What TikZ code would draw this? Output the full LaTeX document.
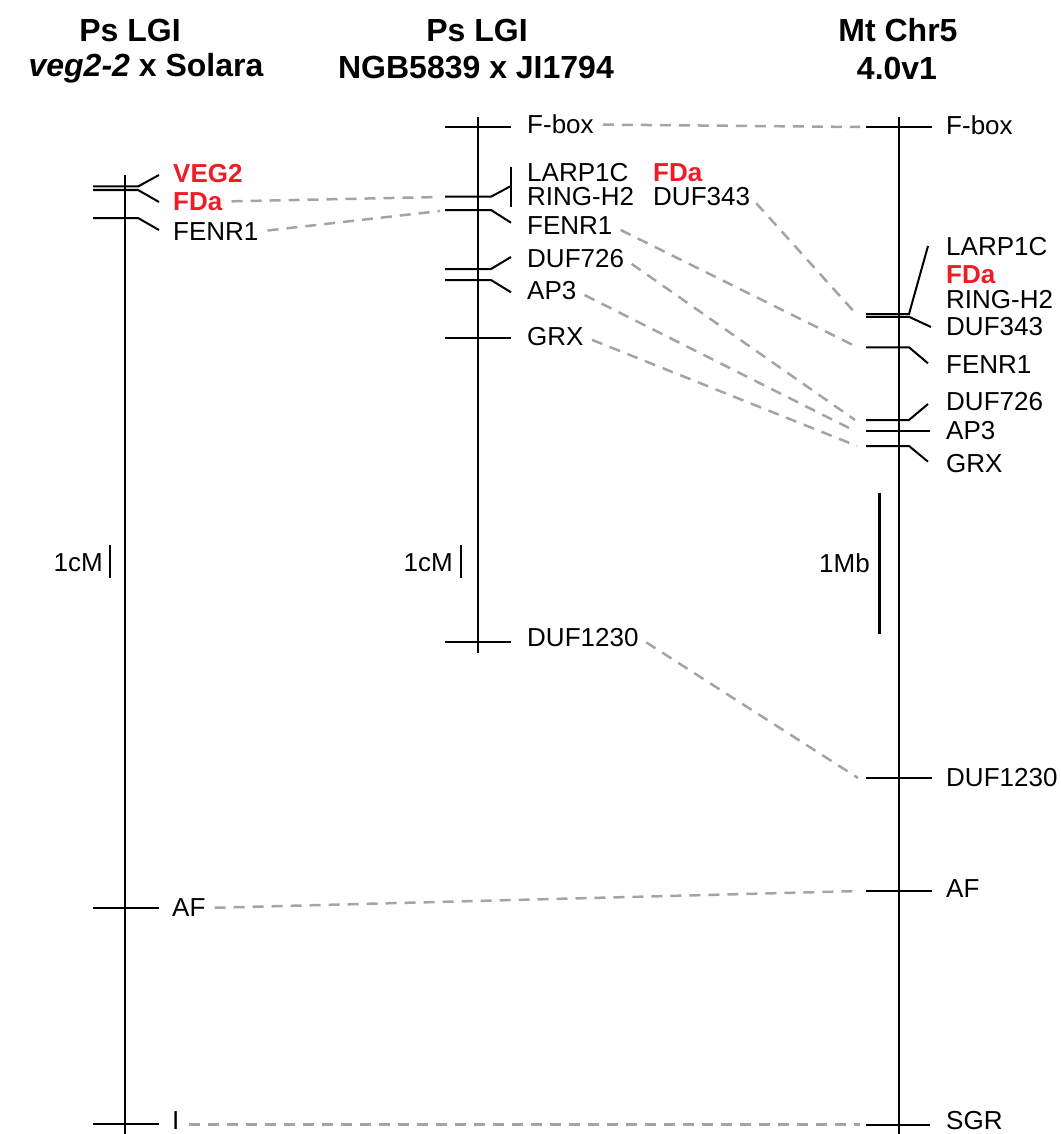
\documentclass[tikz,border=0pt]{standalone}
\usepackage{fontspec}
\setmainfont{Liberation Sans}
\definecolor{fdred}{HTML}{EE1C25}
\definecolor{linkgray}{HTML}{A4A4A4}
\begin{document}
\begin{tikzpicture}[x=1pt,y=-1pt,
  chrom/.style={line width=2.4pt, black},
  tickln/.style={line width=2pt, black},
  lab/.style={anchor=west, inner sep=0pt, font=\fontsize{26}{28}\selectfont},
  redlab/.style={lab, text=fdred, font=\bfseries\fontsize{26}{28}\selectfont},
  scl/.style={anchor=east, inner sep=0pt, font=\fontsize{26}{28}\selectfont},
  ttl/.style={anchor=center, inner sep=0pt, font=\bfseries\fontsize{32}{39}\selectfont},
  link/.style={dash pattern=on 11pt off 8pt, line width=2.5pt, linkgray, shorten <=9pt}
]
\useasboundingbox (0,0) rectangle (1060,1134);

% titles
\node[ttl] (t1a) at (130,30) {Ps LGI};
\node[ttl] (t1b) at (146,68) {\textit{veg2-2} x Solara};
\node[ttl] (t2a) at (477,30) {Ps LGI};
\node[ttl] (t2b) at (476,68) {NGB5839 x JI1794};
\node[ttl] (t3a) at (898,30) {Mt Chr5};
\node[ttl] (t3b) at (897,68) {4.0v1};

% ---------- left map ----------
\draw[chrom] (125,175) -- (125,1134);
\draw[tickln] (93,186.5) -- (138,186.5) -- (159,175);
\draw[tickln] (93,190) -- (138,190) -- (159,202);
\draw[tickln] (93,218) -- (138,218) -- (159,230);
\draw[tickln] (93,908) -- (159,908);
\draw[tickln] (93,1124) -- (159,1124);
\node[redlab] (lveg) at (173,173.5) {VEG2};
\node[redlab] (lfda) at (173,201.5) {FDa};
\node[lab] (lfenr) at (173,231.5) {FENR1};
\node[lab] (laf) at (172,908) {AF};
\node[lab] (li) at (172,1121) {I};
\draw[line width=2.4pt] (110,545) -- (110,578);
\node[scl] (lscale) at (103,563) {1cM};

% ---------- middle map ----------
\draw[chrom] (478,117) -- (478,653);
\draw[tickln] (445,126.7) -- (511,126.7);
\draw[tickln] (445,196.7) -- (491,196.7) -- (511,186);
\draw[tickln] (511,167) -- (511,207);
\draw[tickln] (445,210) -- (491,210) -- (511,222.7);
\draw[tickln] (445,269) -- (491,269) -- (511,257);
\draw[tickln] (445,280) -- (491,280) -- (511,292.3);
\draw[tickln] (445,338.3) -- (511,338.3);
\draw[tickln] (445,641.7) -- (511,641.7);
\node[lab] (mfbox) at (527,124.5) {F-box};
\node[lab] (mlarp) at (527,172.5) {LARP1C};
\node[lab] (mring) at (527,196.5) {RING-H2};
\node[lab] (mfenr) at (527,226) {FENR1};
\node[redlab] (mfda) at (653,172.5) {FDa};
\node[lab] (mduf343) at (653,196.5) {DUF343};
\node[lab] (mduf726) at (527,258.7) {DUF726};
\node[lab] (map3) at (527,291) {AP3};
\node[lab] (mgrx) at (527,336.5) {GRX};
\node[lab] (mduf1230) at (527,637.5) {DUF1230};
\draw[line width=2.4pt] (461,545) -- (461,578);
\node[scl] (mscale) at (453,563) {1cM};

% ---------- right map ----------
\draw[chrom] (899,117) -- (899,1134);
\draw[tickln] (866,127) -- (932,127);
\draw[tickln] (866,314) -- (909,314) -- (928,246);
\draw[tickln] (866,316.8) -- (909,316.8) -- (931,327);
\draw[tickln] (866,347.3) -- (909,347.3) -- (928,363.3);
\draw[tickln] (866,420) -- (909,420) -- (928,404);
\draw[tickln] (866,430.5) -- (930,430.5);
\draw[tickln] (866,446) -- (909,446) -- (928,461.7);
\draw[tickln] (866,778) -- (932,778);
\draw[tickln] (866,891) -- (932,891);
\draw[tickln] (866,1124.5) -- (930,1124.5);
\node[lab] (rfbox) at (946,125) {F-box};
\node[lab] (rlarp) at (946,247) {LARP1C};
\node[redlab] (rfda) at (946,275) {FDa};
\node[lab] (rring) at (946,300) {RING-H2};
\node[lab] (rduf343) at (946,327) {DUF343};
\node[lab] (rfenr) at (946,365) {FENR1};
\node[lab] (rduf726) at (946,401.7) {DUF726};
\node[lab] (rap3) at (946,431) {AP3};
\node[lab] (rgrx) at (946,463.3) {GRX};
\node[lab] (rduf1230) at (946,778) {DUF1230};
\node[lab] (raf) at (946,889) {AF};
\node[lab] (rsgr) at (946,1121) {SGR};
\draw[line width=2.4pt] (879.3,493) -- (879.3,634);
\node[scl] (rscale) at (870,563) {1Mb};

% link end points
\coordinate (eMfda) at (440,197);
\coordinate (eMfenr) at (440,211);
\coordinate (eRfbox) at (860,127);
\coordinate (eRcl) at (857,315);
\coordinate (eRfenr) at (858,347.5);
\coordinate (eRduf726) at (855,420);
\coordinate (eRap3) at (855,431);
\coordinate (eRgrx) at (857,446);
\coordinate (eRduf1230) at (858,778);
\coordinate (eRaf) at (860,891);
\coordinate (eRsgr) at (860,1124.5);
\coordinate (sLi) at ([xshift=0pt,yshift=-3.5pt]li.east);

% dashed links
\draw[link] (lfda.east) -- (eMfda);
\draw[link] (lfenr.east) -- (eMfenr);
\draw[link] (mfbox.east) -- (eRfbox);
\draw[link] (mduf343.east) -- (eRcl);
\draw[link] (mfenr.east) -- (eRfenr);
\draw[link] (mduf726.east) -- (eRduf726);
\draw[link] (map3.east) -- (eRap3);
\draw[link] (mgrx.east) -- (eRgrx);
\draw[link] (mduf1230.east) -- (eRduf1230);
\draw[link] (laf.east) -- (eRaf);
\draw[link] (sLi) -- (eRsgr);
\end{tikzpicture}
\end{document}
